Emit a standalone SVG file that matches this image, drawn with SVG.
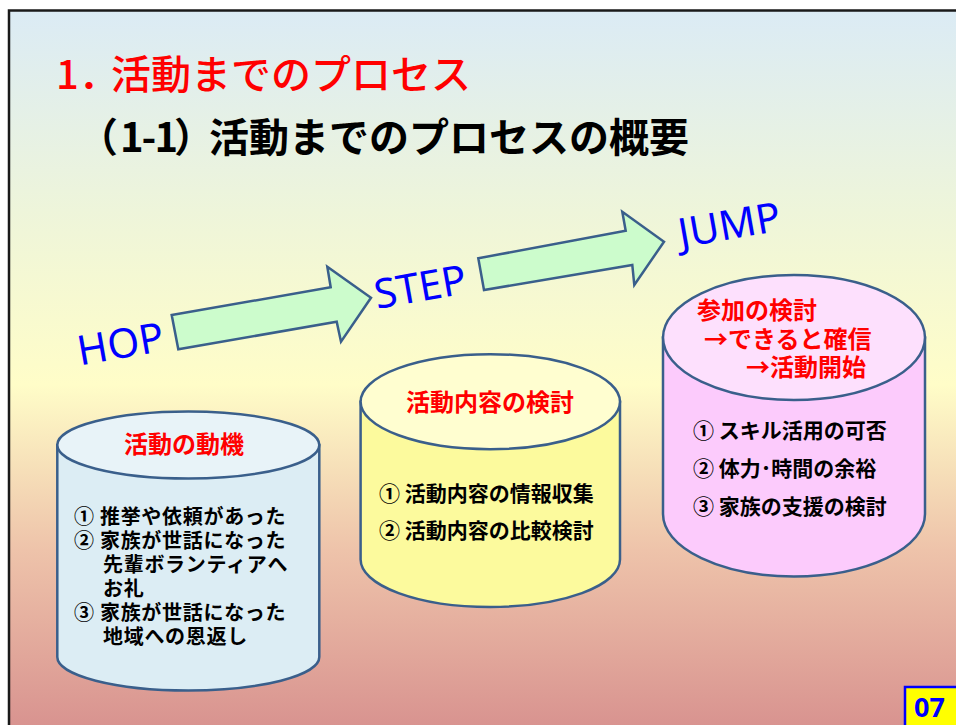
<svg xmlns="http://www.w3.org/2000/svg" width="956" height="725" viewBox="0 0 956 725">
<defs>
<linearGradient id="bg" x1="0" y1="10" x2="0" y2="730" gradientUnits="userSpaceOnUse">
<stop offset="0" stop-color="#dbebf5"/>
<stop offset="0.28" stop-color="#eef5da"/>
<stop offset="0.52" stop-color="#fffdc8"/>
<stop offset="0.75" stop-color="#eec3aa"/>
<stop offset="1" stop-color="#d8928f"/>
</linearGradient>
<style>
.cyl{stroke:#3a5f8b;stroke-width:2.5}
.arrow{fill:#ccfccc;stroke:#3a5f8b;stroke-width:2.5;stroke-linejoin:miter}
.jp{font-family:"Noto Sans CJK JP","Noto Sans",sans-serif}
.ttl{font-weight:700;font-size:24px;fill:#ff0000}
.bd{font-weight:700;font-size:21px;fill:#000000}
.bd1{font-weight:700;font-size:20px;letter-spacing:0.7px;fill:#000000}
.lat{font-family:"Noto Sans","Open Sans",sans-serif;font-size:41px;fill:#0000ff}
</style>
</defs>
<rect x="0" y="0" width="956" height="725" fill="#ffffff"/>
<rect x="9" y="10.5" width="960" height="730" fill="url(#bg)" stroke="#1a1a1a" stroke-width="2.5"/>

<g id="title">
<text class="jp" y="89" font-size="40" font-weight="500" fill="#ff0000"><tspan x="56">1．</tspan><tspan x="111">活動までのプロセス</tspan></text>
<text class="jp" y="152" font-size="40" font-weight="700" fill="#000000"><tspan x="78">（</tspan><tspan x="120" letter-spacing="-2">1-1</tspan><tspan x="174">）</tspan><tspan x="209">活動までのプロセスの概要</tspan></text>
</g>

<g id="connectors">
<polygon class="arrow" points="171.7,315 330.7,287.3 327.3,266.7 371,297.7 341,341.7 336.7,321.7 178.3,349.3"/>
<polygon class="arrow" points="478.3,258.3 625.7,230.7 622.3,211.7 664,241.7 634.3,285 632.3,265 484,290"/>
</g>

<g id="hop"><text class="lat" transform="translate(80,365.5) rotate(-10)">HOP</text></g>
<g id="step"><text class="lat" transform="translate(377,309) rotate(-10)">STEP</text></g>
<g id="jump"><text class="lat" transform="translate(681,248) rotate(-10)">JUMP</text></g>

<g id="motive">
<path class="cyl" fill="#dcedf4" d="M57.3,445 L57.3,657 A131,33.5 0 0 0 319.3,657 L319.3,445 Z"/>
<ellipse class="cyl" fill="#e8f3f8" cx="188.3" cy="445" rx="131" ry="33.5"/>
<text class="jp ttl" x="184" y="453" text-anchor="middle">活動の動機</text>
<text class="jp bd1">
<tspan x="74" y="524">① 推挙や依頼があった</tspan>
<tspan x="74" y="548">② 家族が世話になった</tspan>
<tspan x="103" y="572">先輩ボランティアへ</tspan>
<tspan x="103" y="596">お礼</tspan>
<tspan x="74" y="620">③ 家族が世話になった</tspan>
<tspan x="103" y="644">地域への恩返し</tspan>
</text>
</g>

<g id="content">
<path class="cyl" fill="#fcfa9d" d="M360.6,401.7 L360.6,559.5 A129.7,47.5 0 0 0 620,559.5 L620,401.7 Z"/>
<ellipse class="cyl" fill="#fffed0" cx="490.3" cy="401.7" rx="129.7" ry="47.5"/>
<text class="jp ttl" x="490" y="410.5" text-anchor="middle">活動内容の検討</text>
<text class="jp bd">
<tspan x="379" y="501">① 活動内容の情報収集</tspan>
<tspan x="379" y="538">② 活動内容の比較検討</tspan>
</text>
</g>

<g id="join">
<path class="cyl" fill="#fccbfc" d="M663,337.5 L663,514 A131,62.5 0 0 0 925,514 L925,337.5 Z"/>
<ellipse class="cyl" fill="#fde0fd" cx="794" cy="337.5" rx="131" ry="62.5"/>
<text class="jp ttl">
<tspan x="697" y="319">参加の検討</tspan>
<tspan x="704" y="347.5">→できると確信</tspan>
<tspan x="746" y="376">→活動開始</tspan>
</text>
<text class="jp bd">
<tspan x="693" y="438">① スキル活用の可否</tspan>
<tspan x="693" y="476">② 体力･時間の余裕</tspan>
<tspan x="693" y="514">③ 家族の支援の検討</tspan>
</text>
</g>

<g id="page">
<rect x="905" y="687" width="60" height="50" fill="#ffff00" stroke="#0000ff" stroke-width="2.5"/>
<text x="914" y="717" font-family="Noto Sans, sans-serif" font-weight="700" font-size="27" fill="#0000ff">07</text>
</g>
</svg>
